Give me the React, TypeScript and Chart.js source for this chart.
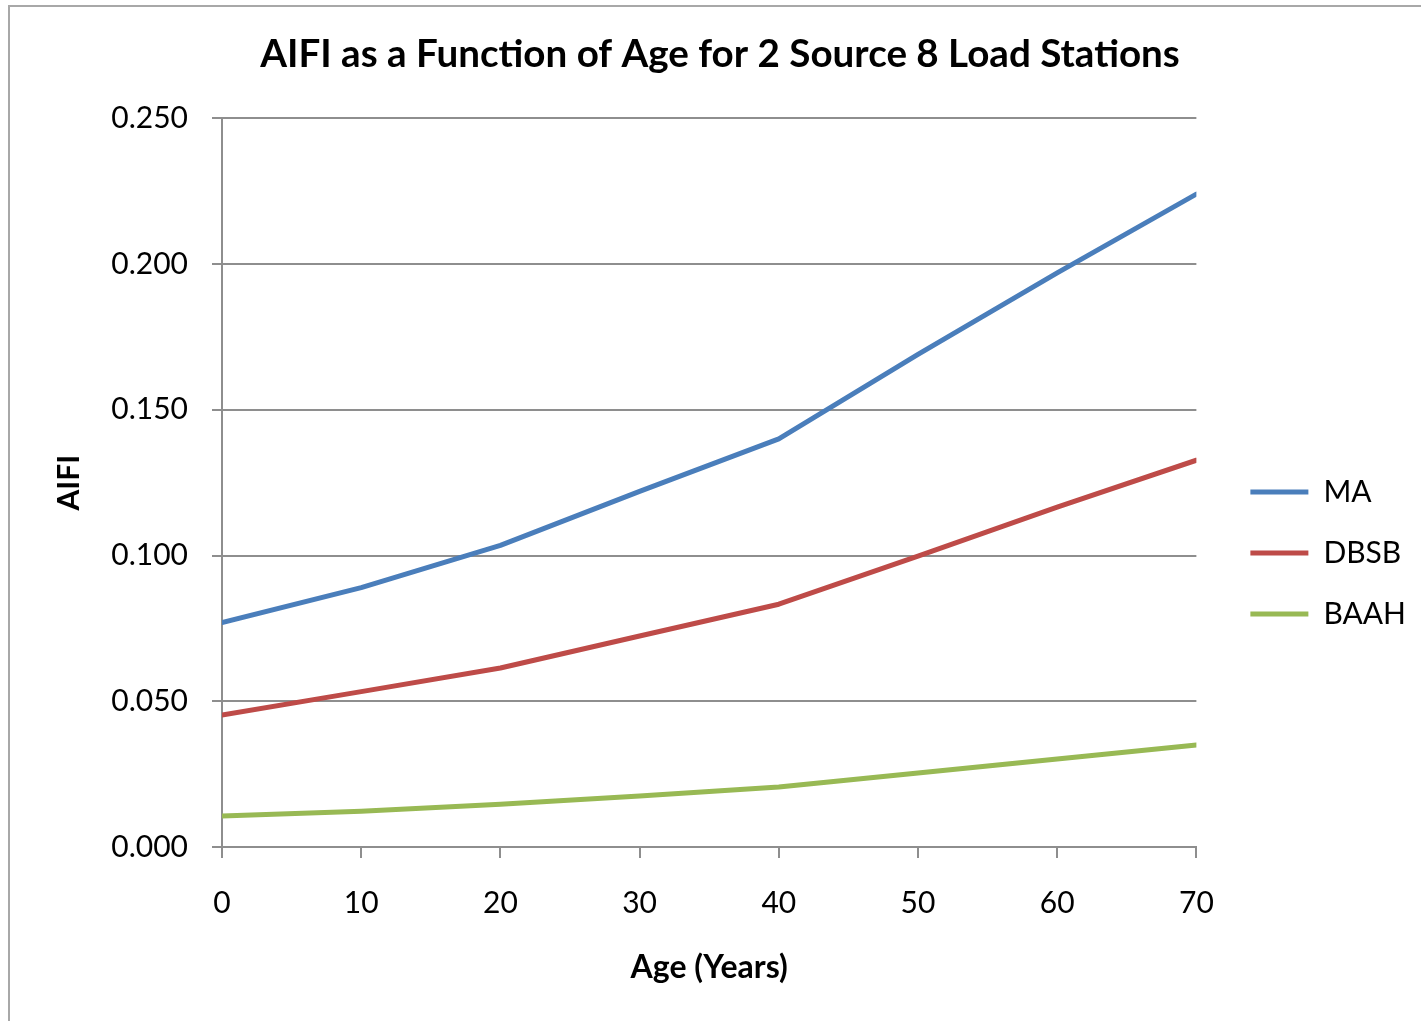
import { useEffect, useRef } from "react";
import { Chart, registerables } from "chart.js";

Chart.register(...registerables);

const ages = [0, 10, 20, 30, 40, 50, 60, 70];
const maValues = [0.077, 0.089, 0.1035, 0.122, 0.14, 0.169, 0.197, 0.224];
const dbsbValues = [0.0453, 0.0533, 0.0614, 0.0724, 0.0833, 0.0998, 0.1166, 0.1327];
const baahValues = [0.0106, 0.0123, 0.0147, 0.0175, 0.0206, 0.0254, 0.0302, 0.035];
const seriesNames = ["MA", "DBSB", "BAAH"];
const seriesColors = ["#4A7EBB", "#BE4B48", "#98B954"];
const seriesValues = [maValues, dbsbValues, baahValues];

const titleText = "AIFI as a Function of Age for 2 Source 8 Load Stations";
const xTitle = "Age (Years)";
const yTitle = "AIFI";

const FONT = "Lato";
const GRID = "#8e8e8e";

export default function App() {
  const ref = useRef<HTMLCanvasElement>(null);

  useEffect(() => {
    if (!ref.current) return;
    Chart.defaults.font.family = FONT;
    const chart = new Chart(ref.current, {
      type: "line",
      data: {
        datasets: seriesNames.map((name, i) => ({
          label: name,
          data: ages.map((a, j) => ({ x: a, y: seriesValues[i][j] })),
          borderColor: seriesColors[i],
          backgroundColor: seriesColors[i],
          borderWidth: 5,
          pointRadius: 0,
          tension: 0,
          fill: false,
          borderCapStyle: "round",
          borderJoinStyle: "round",
          yAxisID: "y",
        })),
      },
      options: {
        animation: false,
        responsive: false,
        layout: { padding: { left: 14, right: 5, top: 0, bottom: 0 } },
        plugins: {
          tooltip: { enabled: false },
          title: {
            display: true,
            text: titleText,
            color: "#000",
            font: { family: FONT, size: 38.6, weight: "bold" },
            padding: { top: 24, bottom: 41 },
          },
          legend: {
            position: "right",
            align: "center",
            title: {
              display: true,
              text: "",
              font: { size: 10, lineHeight: 1 },
              padding: { top: 0, bottom: 68 },
            },
            labels: {
              usePointStyle: true,
              pointStyle: "line",
              pointStyleWidth: 58,
              color: "#000",
              font: { family: FONT, size: 30 },
              padding: 31,
            },
          },
        },
        scales: {
          x: {
            type: "linear",
            min: 0,
            max: 70,
            ticks: { stepSize: 10, color: "#000", font: { family: FONT, size: 30 }, padding: 27 },
            grid: { drawOnChartArea: false, drawTicks: true, tickLength: 11, color: GRID, lineWidth: 2 },
            border: { color: GRID, width: 2 },
            title: {
              display: true,
              text: xTitle,
              color: "#000",
              font: { family: FONT, size: 32, weight: "bold" },
              padding: { top: 0, bottom: 34 },
            },
            afterFit: (s: any) => {
              s.height = 174;
            },
          },
          y: {
            type: "linear",
            min: 0,
            max: 0.25,
            ticks: {
              stepSize: 0.05,
              color: "#000",
              font: { family: FONT, size: 30 },
              padding: 24,
              callback: (v: any) => Number(v).toFixed(3),
            },
            grid: { drawTicks: true, tickLength: 10, color: GRID, lineWidth: 2 },
            border: { color: GRID, width: 2 },
            title: {
              display: true,
              text: yTitle,
              color: "#000",
              font: { family: FONT, size: 30, weight: "bold" },
              padding: { top: 27, bottom: 0 },
            },
            afterFit: (s: any) => {
              s.width = 198;
            },
          },
          y2: {
            type: "linear",
            position: "right",
            display: true,
            grid: { display: false },
            border: { display: false },
            ticks: { display: false },
            afterFit: (s: any) => {
              s.width = 23;
            },
          },
        },
      },
    });
    return () => chart.destroy();
  }, []);

  return (
    <div
      style={{
        position: "absolute",
        left: 8,
        top: 5,
        width: 1413,
        height: 1016,
        borderTop: "2px solid #a8a8a8",
        borderLeft: "2px solid #a8a8a8",
        boxSizing: "border-box",
        background: "#fff",
        overflow: "hidden",
      }}
    >
      <canvas ref={ref} width={1411} height={1014} style={{ display: "block" }} />
    </div>
  );
}
